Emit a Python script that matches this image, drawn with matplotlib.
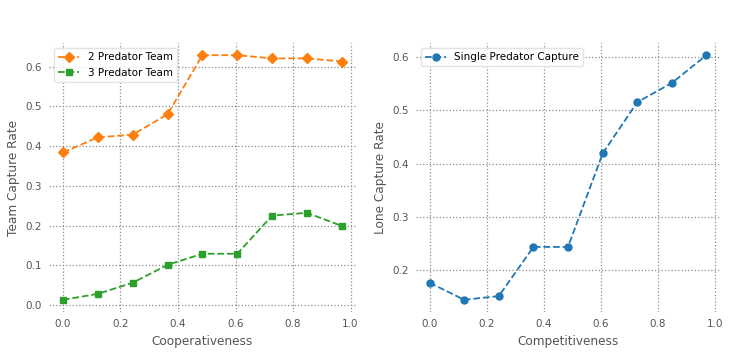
import matplotlib
matplotlib.use("Agg")
import matplotlib.pyplot as plt

coop_x = [0.0, 0.1212, 0.2424, 0.3636, 0.4848, 0.6061, 0.7273, 0.8485, 0.9697]
team2 = [0.384, 0.422, 0.429, 0.480, 0.629, 0.629, 0.621, 0.621, 0.613]
team3 = [0.013, 0.028, 0.056, 0.101, 0.129, 0.129, 0.225, 0.232, 0.199]

comp_x = [0.0, 0.1212, 0.2424, 0.3636, 0.4848, 0.6061, 0.7273, 0.8485, 0.9697]
lone = [0.177, 0.145, 0.152, 0.244, 0.244, 0.419, 0.515, 0.551, 0.603]

plt.rcParams['font.family'] = ['DejaVu Sans']
fig = plt.figure(figsize=(7.32, 3.55), dpi=100)
ax1 = fig.add_axes([0.067, 0.121, 0.419, 0.758])
ax2 = fig.add_axes([0.568, 0.121, 0.416, 0.758])

gray = '#555555'
for ax in (ax1, ax2):
    ax.set_facecolor('white')
    for s in ax.spines.values():
        s.set_visible(False)
    ax.grid(True, linestyle=':', color='#8c8c8c', linewidth=0.9)
    ax.set_axisbelow(True)
    ax.tick_params(axis='both', length=0, labelsize=7.5, colors=gray, pad=5)

ax1.plot(coop_x, team2, linestyle='--', marker='D', color='#ff7f0e', markersize=5, linewidth=1.3, label='2 Predator Team')
ax1.plot(coop_x, team3, linestyle='--', marker='s', color='#2ca02c', markersize=5, linewidth=1.3, label='3 Predator Team')
ax1.set_xlabel('Cooperativeness', fontsize=8.7, color=gray)
ax1.set_ylabel('Team Capture Rate', fontsize=8.7, color=gray)
ax1.set_xticks([0.0, 0.2, 0.4, 0.6, 0.8, 1.0])
ax1.set_yticks([0.0, 0.1, 0.2, 0.3, 0.4, 0.5, 0.6])
ax1.legend(loc='upper left', fontsize=7.5, frameon=True, edgecolor='#dddddd', framealpha=0.8, fancybox=True)

ax2.plot(comp_x, lone, linestyle='--', marker='o', color='#1f77b4', markersize=5, linewidth=1.3, label='Single Predator Capture')
ax2.set_xlabel('Competitiveness', fontsize=8.7, color=gray)
ax2.set_ylabel('Lone Capture Rate', fontsize=8.7, color=gray)
ax2.set_xticks([0.0, 0.2, 0.4, 0.6, 0.8, 1.0])
ax2.set_yticks([0.2, 0.3, 0.4, 0.5, 0.6])
ax2.legend(loc='upper left', fontsize=7.5, frameon=True, edgecolor='#dddddd', framealpha=0.8, fancybox=True)

fig.savefig('out.png', dpi=100, facecolor='white')
